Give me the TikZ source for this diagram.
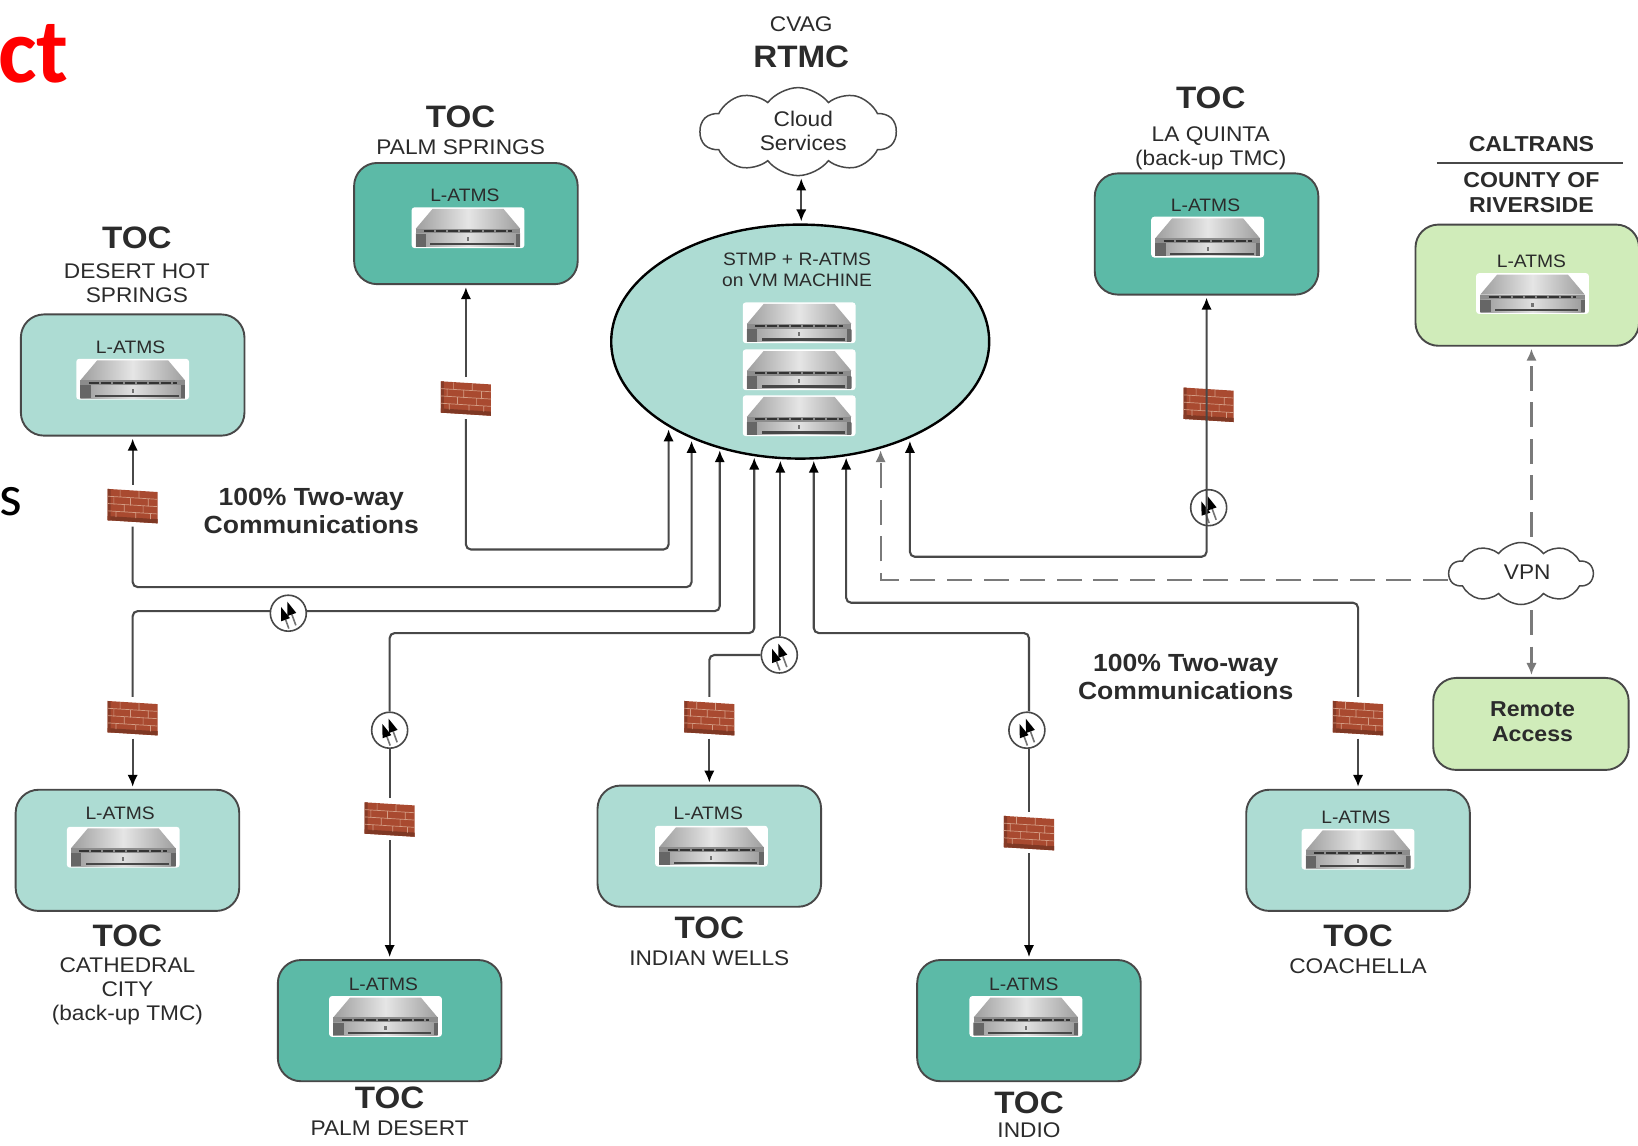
\documentclass[tikz,border=0pt]{standalone}
\usepackage{fontspec}
\setmainfont[FakeStretch=1.07]{Liberation Sans}
\newfontfamily\calibrifont{Carlito}
\usetikzlibrary{shapes.geometric,shapes.symbols,arrows.meta}
\pgfdeclarelayer{backlinks}
\pgfdeclarelayer{overlinks}
\pgfsetlayers{backlinks,main,overlinks}
\definecolor{lightteal}{HTML}{ADDCD3}
\definecolor{darkteal}{HTML}{5CBAA7}
\definecolor{lightgreen}{HTML}{D0ECBA}
\definecolor{ink}{HTML}{2B2B2B}
\definecolor{linkgray}{HTML}{484848}
\definecolor{dashgray}{HTML}{7A7A7A}
\definecolor{brick}{HTML}{A94A30}
\definecolor{mortar}{HTML}{D39C84}
\tikzset{
  x=0.52235pt,y=-0.52235pt,
  tip/.tip={Latex[length=6pt,width=5.2pt,color=black]},
  dtip/.tip={Latex[length=6pt,width=5.2pt,color=dashgray]},
  tocbox/.style={draw=linkgray,line width=0.95pt,rounded corners=11.5pt,minimum width=111.8pt,minimum height=60.6pt,inner sep=0pt},
  srvnode/.style={fill=white,rounded corners=1.5pt,minimum width=56.4pt,minimum height=20.4pt,inner sep=0pt},
  fwnode/.style={fill=white,minimum width=27pt,minimum height=20.5pt,inner sep=0pt},
  fwbare/.style={minimum width=27pt,minimum height=20.5pt,inner sep=0pt},
  swnode/.style={circle,draw=linkgray,fill=white,line width=0.8pt,minimum size=18pt,inner sep=0pt},
  txt/.style={text=ink,align=center,inner sep=0pt,font=\fontsize{10.6}{12}\selectfont},
  atms/.style={text=ink,inner sep=0pt,font=\fontsize{9}{10}\selectfont},
  toc/.style={text=ink,inner sep=0pt,font=\fontsize{15.5}{17}\selectfont\bfseries},
  comm/.style={text=ink,align=center,inner sep=0pt,font=\fontsize{12.4}{14}\selectfont\bfseries},
  orgname/.style={text=ink,align=center,inner sep=0pt,font=\fontsize{10.8}{12.4}\selectfont\bfseries},
  link/.style={draw=linkgray,line width=1.05pt,rounded corners=2.5pt},
  dlink/.style={draw=dashgray,line width=1.05pt,dash pattern=on 12.5pt off 5.8pt},
  cloudnode/.style={cloud,draw=linkgray,fill=white,line width=0.75pt,aspect=2.2,inner sep=0pt,cloud puff arc=105},
  pics/serverart/.style={code={
    \shade[left color=black!38,right color=black!38,middle color=black!10] (-34,-18) -- (34,-18) -- (50,1) -- (-50,1) -- cycle;
    \fill[black!45] (-50,1) rectangle (50,6);
    \draw[black!80,line width=1pt,dash pattern=on 5pt off 1pt] (-42,3.5) -- (42,3.5);
    \shade[left color=black!40,right color=black!40,middle color=black!12] (-50,6) rectangle (50,18);
    \fill[black!60] (-50,6) rectangle (-40,18);
    \fill[black!60] (46,6) rectangle (50,18);
    \fill[black!72] (-36,15) rectangle (44,17);
    \fill[black!55] (-1,9) rectangle (1,13);
  }},
  pics/brickart/.style={code={
    \fill[brick] (-24,-16) -- (24,-13) -- (24,17) -- (-24,14) -- cycle;
    \fill[brick!75!black] (-24,14) -- (24,17) -- (24,13) -- (-24,10) -- cycle;
    \fill[brick!80!black] (-24,-16) -- (-24,14) -- (-21,14.2) -- (-21,-15.8) -- cycle;
    \draw[mortar,line width=0.35pt]
      (-24,-9) -- (24,-6) (-24,-2) -- (24,1) (-24,5) -- (24,8)
      (-12,-15) -- (-12,-8) (6,-14) -- (6,-7)
      (-18,-8) -- (-18,-1) (-2,-7) -- (-2,0) (15,-6) -- (15,1)
      (-8,-1) -- (-8,6) (10,0) -- (10,7)
      (-16,6) -- (-16,11) (3,7) -- (3,12) (17,8) -- (17,13);
  }},
  pics/plugart/.style={code={
    \draw[black!55,line width=0.8pt] (-2.6,6.2) -- (0.5,14.7) (3.4,1.2) -- (7.2,11.6);
    \fill[black] (-7,-6) -- (1.6,4.7) -- (-6.8,7.7) -- cycle;
    \fill[black] (-1,-11) -- (7.6,-0.3) -- (-0.8,2.7) -- cycle;
  }},
}
\begin{document}
\begin{tikzpicture}
\useasboundingbox (0,0) rectangle (1568,1097);
\clip (0,0) rectangle (1568,1097);

% stray slide text
\node[anchor=east,text=red,inner sep=0pt,font=\fontsize{46}{50}\calibrifont\bfseries] (slidetitle) at (66,52) {ct};
\node[anchor=east,text=black,inner sep=0pt,font=\fontsize{29}{32}\calibrifont] (slidetext) at (22,480) {s};

% centre
\node[ellipse,draw=black,fill=lightteal,line width=1.2pt,minimum width=189pt,minimum height=117pt,inner sep=0pt] (vm) at (766,327) {};
\node[txt,font=\fontsize{9}{10.4}\selectfont] (vmtext) at (763,258) {STMP + R-ATMS\\on VM MACHINE};
\node[srvnode] (srva) at (765,309) {}; \pic at (srva) {serverart};
\node[srvnode] (srvb) at (765,354) {}; \pic at (srvb) {serverart};
\node[srvnode] (srvc) at (765,398) {}; \pic at (srvc) {serverart};
\node[cloudnode,cloud puffs=10,minimum width=98pt,minimum height=44pt] (cl) at (764,126) {};
\node[txt] (cltext) at (769,125) {Cloud\\Services};
\node[txt] (cvag) at (767,23) {CVAG};
\node[toc] (rtmc) at (767,54) {RTMC};

% boxes
\node[tocbox,fill=lightteal] (dh) at (127,359) {};
\node[atms] (dhl) at (125,332) {L-ATMS};
\node[srvnode] (dhs) at (127,363) {}; \pic at (dhs) {serverart};
\node[toc] (dht) at (131,228) {TOC};
\node[txt] (dhn) at (131,271) {DESERT HOT\\SPRINGS};

\node[tocbox,fill=darkteal] (ps) at (446,214) {};
\node[atms] (psl) at (445,187) {L-ATMS};
\node[srvnode] (pss) at (448,218) {}; \pic at (pss) {serverart};
\node[toc] (pst) at (441,112) {TOC};
\node[txt] (psn) at (441,141) {PALM SPRINGS};

\node[tocbox,fill=darkteal] (lq) at (1155,224) {};
\node[atms] (lql) at (1154,197) {L-ATMS};
\node[srvnode] (lqs) at (1156,227) {}; \pic at (lqs) {serverart};
\node[toc] (lqt) at (1159,94) {TOC};
\node[txt] (lqn) at (1159,142) {LA QUINTA\\(back-up TMC)};

\node[tocbox,fill=lightgreen] (ca) at (1462,273) {};
\node[atms] (cal) at (1466,250) {L-ATMS};
\node[srvnode] (cas) at (1467,281) {}; \pic at (cas) {serverart};
\node[orgname] (can) at (1466,138) {CALTRANS};
\node[inner sep=0pt] (rulel) at (1374,156) {};
\node[inner sep=0pt] (ruler) at (1555,156) {};
\draw[linkgray,line width=0.8pt] (rulel) -- (ruler);
\node[orgname] (cot) at (1466,184) {COUNTY OF\\RIVERSIDE};

\node[tocbox,fill=lightteal] (cc) at (122,814) {};
\node[atms] (ccl) at (115,779) {L-ATMS};
\node[srvnode] (ccs) at (118,811) {}; \pic at (ccs) {serverart};
\node[toc] (cct) at (122,896) {TOC};
\node[txt] (ccn) at (122,949) {CATHEDRAL\\CITY\\(back-up TMC)};

\node[tocbox,fill=darkteal] (pd) at (373,977) {};
\node[atms] (pdl) at (367,942) {L-ATMS};
\node[srvnode] (pds) at (369,973) {}; \pic at (pds) {serverart};
\node[toc] (pdt) at (373,1051) {TOC};
\node[txt] (pdn) at (373,1080) {PALM DESERT};

\node[tocbox,fill=lightteal] (iw) at (679,810) {};
\node[atms] (iwl) at (678,779) {L-ATMS};
\node[srvnode] (iws) at (681,810) {}; \pic at (iws) {serverart};
\node[toc] (iwt) at (679,888) {TOC};
\node[txt] (iwn) at (679,917) {INDIAN WELLS};

\node[tocbox,fill=darkteal] (in) at (985,977) {};
\node[atms] (inl) at (980,942) {L-ATMS};
\node[srvnode] (ins) at (982,973) {}; \pic at (ins) {serverart};
\node[toc] (int) at (985,1056) {TOC};
\node[txt] (inn) at (985,1082) {INDIO};

\node[tocbox,fill=lightteal] (co) at (1300,814) {};
\node[atms] (col) at (1298,782) {L-ATMS};
\node[srvnode] (cos) at (1300,813) {}; \pic at (cos) {serverart};
\node[toc] (cot2) at (1300,896) {TOC};
\node[txt] (con) at (1300,925) {COACHELLA};

\node[tocbox,fill=lightgreen,minimum width=97.7pt,minimum height=46pt] (ra) at (1465.5,693) {};
\node[orgname] (ran) at (1467,691) {Remote\\Access};

\node[cloudnode,cloud puffs=10,minimum width=72pt,minimum height=31pt] (vpn) at (1456,549) {};
\node[txt] (vpnt) at (1462,548) {VPN};

\node[comm] (ca1) at (298,489) {100\% Two-way\\Communications};
\node[comm] (ca2) at (1135,648) {100\% Two-way\\Communications};

% firewalls
\node[fwnode] (fwdh) at (127,484) {}; \pic at (fwdh) {brickart};
\node[fwnode] (fwps) at (446,381) {}; \pic at (fwps) {brickart};
\node[fwbare] (fwlq) at (1155,388) {}; \pic at (1157,387) {brickart};
\node[fwnode] (fwcc) at (127,687) {}; \pic at (fwcc) {brickart};
\node[fwnode] (fwpd) at (373,784) {}; \pic at (fwpd) {brickart};
\node[fwnode] (fwiw) at (679,687) {}; \pic at (fwiw) {brickart};
\node[fwnode] (fwin) at (985,797) {}; \pic at (fwin) {brickart};
\node[fwnode] (fwco) at (1300,687) {}; \pic at (fwco) {brickart};

% switches
\node[swnode] (swcc) at (276,587) {}; \pic at (swcc) {plugart};
\node[swnode] (swpd) at (373,699) {}; \pic at (swpd) {plugart};
\node[swnode] (swiw) at (746,627) {}; \pic at (swiw) {plugart};
\node[swnode] (swin) at (983,699) {}; \pic at (swin) {plugart};
\node[swnode] (swlq) at (1157,486) {}; \pic at (swlq) {plugart};

% ellipse entry points
\coordinate (e1) at (640,411);
\coordinate (e2) at (662,422);
\coordinate (e3) at (689,431);
\coordinate (e4) at (722,438);
\coordinate (e5) at (747,441);
\coordinate (e6) at (779,441);
\coordinate (e7) at (810,438);
\coordinate (e8) at (843,431);
\coordinate (e9) at (871,422);
\coordinate (vx) at (1466,549);

\begin{pgfonlayer}{backlinks}
  \draw[link,tip-tip,shorten <=1pt,shorten >=1pt] (cl.south -| rtmc) -- (vm.north -| rtmc);
  % palm springs
  \draw[link,-tip,shorten >=1pt] (fwps.north) -- (fwps.north |- ps.south);
  \draw[link,-tip] (fwps.south) |- (e1 |- 0,526) -- (e1);
  % desert hot springs
  \draw[link,-tip,shorten >=1pt] (fwdh.north) -- (fwdh.north |- dh.south);
  \draw[link,-tip] (fwdh.south) |- (e2 |- 0,562) -- (e2);
  % cathedral city
  \draw[link,-tip,shorten >=1pt] (fwcc.south) -- (fwcc.south |- cc.north);
  \draw[link,-tip] (fwcc.north) |- (e3 |- 0,585) -- (e3);
  % palm desert
  \draw[link,-tip,shorten >=1pt] (fwpd.south) -- (fwpd.south |- pd.north);
  \draw[link] (fwpd.north) -- (swpd.south);
  \draw[link,-tip] (swpd.north) |- (e4 |- 0,606) -- (e4);
  % indian wells
  \draw[link,-tip,shorten >=1pt] (fwiw.south) -- (fwiw.south |- iw.north);
  \draw[link] (fwiw.north) |- (swiw.west);
  \draw[link,-tip] (swiw.north -| e5) -- (e5);
  % indio
  \draw[link,-tip,shorten >=1pt] (fwin.south) -- (fwin.south |- in.north);
  \draw[link] (fwin.north) -- (swin.south -| fwin);
  \draw[link,-tip] (swin.north -| fwin) |- (e6 |- 0,606) -- (e6);
  % coachella
  \draw[link,-tip,shorten >=1pt] (fwco.south) -- (fwco.south |- co.north);
  \draw[link,-tip] (fwco.north) |- (e7 |- 0,577) -- (e7);
  % vpn
  \draw[dlink,-dtip] (vpn.center |- 0,555) -| (e8);
  \draw[dlink,-dtip,shorten >=1pt] (vx) -- (vx |- ca.south);
  \draw[dlink,-dtip,shorten >=1pt] (vx) -- (vx |- ra.north);
\end{pgfonlayer}
\begin{pgfonlayer}{overlinks}
  % la quinta line runs over its firewall and switch
  \draw[link,tip-tip,shorten <=1pt] (lq.south) |- (e9 |- 0,533) -- (e9);
\end{pgfonlayer}
\end{tikzpicture}
\end{document}
